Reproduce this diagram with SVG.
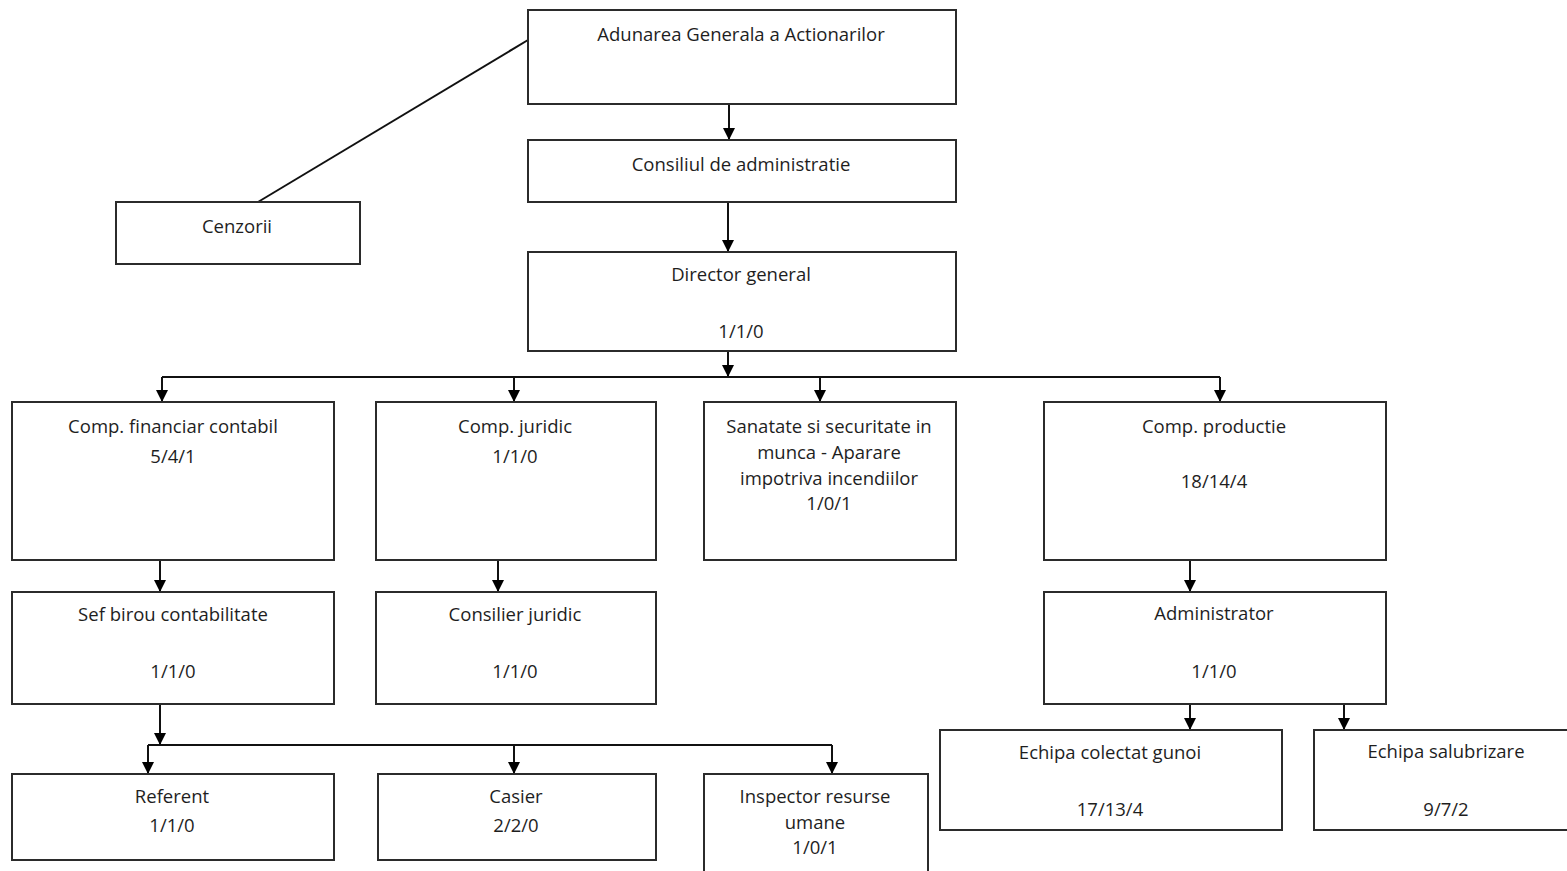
<svg xmlns="http://www.w3.org/2000/svg" width="1567" height="871" viewBox="0 0 1567 871">
<style>
.box{fill:#fff;stroke:#2b2b2b;stroke-width:2}
.t{font-family:"Open Sans",Lato,"Liberation Sans",sans-serif;font-size:18.5px;fill:#1e1e1e;text-anchor:middle}
.c{fill:none;stroke:#111;stroke-width:2}
</style>
<defs>
<marker id="a" markerWidth="12" markerHeight="12" refX="11" refY="6" orient="auto" markerUnits="userSpaceOnUse">
<path d="M0,0 L12,6 L0,12 Z" fill="#000"/>
</marker>
</defs>
<rect width="1567" height="871" fill="#fff"/>
<g id="connectors">
<line class="c" x1="528" y1="40" x2="258" y2="202"/>
<line class="c" x1="729" y1="104" x2="729" y2="139" marker-end="url(#a)"/>
<line class="c" x1="728" y1="202" x2="728" y2="251" marker-end="url(#a)"/>
<line class="c" x1="728" y1="351" x2="728" y2="376" marker-end="url(#a)"/>
<polyline class="c" points="162,377 1220,377"/>
<line class="c" x1="162" y1="377" x2="162" y2="401" marker-end="url(#a)"/>
<line class="c" x1="514" y1="377" x2="514" y2="401" marker-end="url(#a)"/>
<line class="c" x1="820" y1="377" x2="820" y2="401" marker-end="url(#a)"/>
<line class="c" x1="1220" y1="377" x2="1220" y2="401" marker-end="url(#a)"/>
<line class="c" x1="160" y1="560" x2="160" y2="591" marker-end="url(#a)"/>
<line class="c" x1="498" y1="560" x2="498" y2="591" marker-end="url(#a)"/>
<line class="c" x1="1190" y1="560" x2="1190" y2="591" marker-end="url(#a)"/>
<line class="c" x1="160" y1="704" x2="160" y2="744" marker-end="url(#a)"/>
<polyline class="c" points="148,745 832,745"/>
<line class="c" x1="148" y1="745" x2="148" y2="773" marker-end="url(#a)"/>
<line class="c" x1="514" y1="745" x2="514" y2="773" marker-end="url(#a)"/>
<line class="c" x1="832" y1="745" x2="832" y2="773" marker-end="url(#a)"/>
<line class="c" x1="1190" y1="704" x2="1190" y2="729" marker-end="url(#a)"/>
<line class="c" x1="1344" y1="704" x2="1344" y2="729" marker-end="url(#a)"/>
</g>
<g id="adunarea"><rect class="box" x="528" y="10" width="428" height="94"/><text class="t" x="741" y="41">Adunarea Generala a Actionarilor</text></g>
<g id="consiliul"><rect class="box" x="528" y="140" width="428" height="62"/><text class="t" x="741" y="171">Consiliul de administratie</text></g>
<g id="cenzorii"><rect class="box" x="116" y="202" width="244" height="62"/><text class="t" x="237" y="233">Cenzorii</text></g>
<g id="director"><rect class="box" x="528" y="252" width="428" height="99"/><text class="t" x="741" y="281">Director general</text><text class="t" x="741" y="338">1/1/0</text></g>
<g id="financiar"><rect class="box" x="12" y="402" width="322" height="158"/><text class="t" x="173" y="433">Comp. financiar contabil</text><text class="t" x="173" y="463">5/4/1</text></g>
<g id="juridic"><rect class="box" x="376" y="402" width="280" height="158"/><text class="t" x="515" y="433">Comp. juridic</text><text class="t" x="515" y="463">1/1/0</text></g>
<g id="sanatate"><rect class="box" x="704" y="402" width="252" height="158"/><text class="t" x="829" y="433">Sanatate si securitate in</text><text class="t" x="829" y="459">munca - Aparare</text><text class="t" x="829" y="485">impotriva incendiilor</text><text class="t" x="829" y="510">1/0/1</text></g>
<g id="productie"><rect class="box" x="1044" y="402" width="342" height="158"/><text class="t" x="1214" y="433">Comp. productie</text><text class="t" x="1214" y="488">18/14/4</text></g>
<g id="sefbirou"><rect class="box" x="12" y="592" width="322" height="112"/><text class="t" x="173" y="621">Sef birou contabilitate</text><text class="t" x="173" y="678">1/1/0</text></g>
<g id="consilier"><rect class="box" x="376" y="592" width="280" height="112"/><text class="t" x="515" y="621">Consilier juridic</text><text class="t" x="515" y="678">1/1/0</text></g>
<g id="administrator"><rect class="box" x="1044" y="592" width="342" height="112"/><text class="t" x="1214" y="620">Administrator</text><text class="t" x="1214" y="678">1/1/0</text></g>
<g id="referent"><rect class="box" x="12" y="774" width="322" height="86"/><text class="t" x="172" y="803">Referent</text><text class="t" x="172" y="832">1/1/0</text></g>
<g id="casier"><rect class="box" x="378" y="774" width="278" height="86"/><text class="t" x="516" y="803">Casier</text><text class="t" x="516" y="832">2/2/0</text></g>
<g id="inspector"><rect class="box" x="704" y="774" width="224" height="110"/><text class="t" x="815" y="803">Inspector resurse</text><text class="t" x="815" y="829">umane</text><text class="t" x="815" y="854">1/0/1</text></g>
<g id="colectat"><rect class="box" x="940" y="730" width="342" height="100"/><text class="t" x="1110" y="759">Echipa colectat gunoi</text><text class="t" x="1110" y="816">17/13/4</text></g>
<g id="salubrizare"><rect class="box" x="1314" y="730" width="270" height="100"/><text class="t" x="1446" y="758">Echipa salubrizare</text><text class="t" x="1446" y="816">9/7/2</text></g>
</svg>
